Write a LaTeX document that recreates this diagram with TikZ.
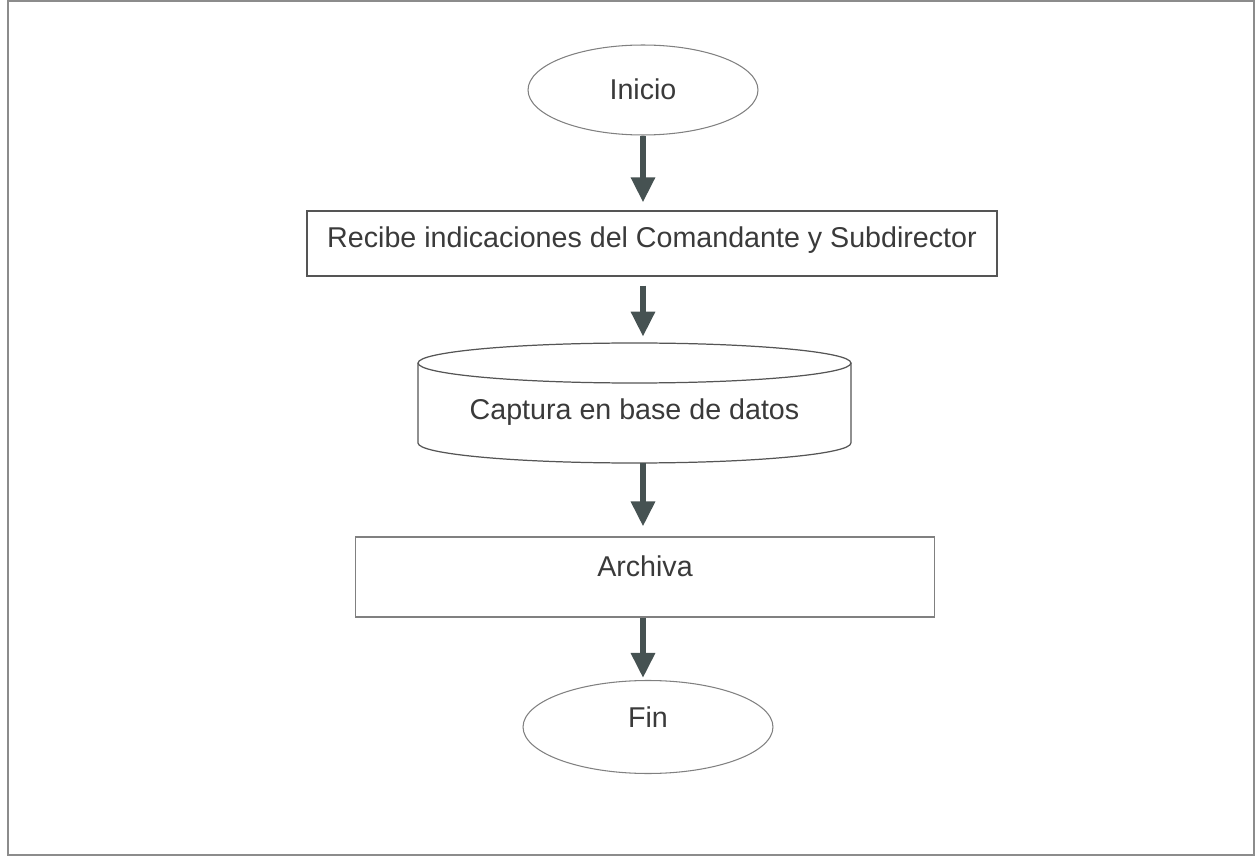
\documentclass[tikz,border=0pt]{standalone}
\usepackage{fontspec}
\setmainfont{Liberation Sans}
\usetikzlibrary{shapes.geometric,arrows.meta}
\definecolor{arrowc}{HTML}{465252}
\definecolor{txtc}{HTML}{3A3A3A}
\definecolor{linec}{HTML}{555555}
\definecolor{lightc}{HTML}{808080}
\definecolor{framec}{HTML}{8C8C8C}
\tikzset{
  lbl/.style={font=\fontsize{16.3}{19}\selectfont, text=txtc, inner sep=0pt},
  ovalbox/.style={lbl, ellipse, draw=lightc, line width=0.6pt},
  stepbox/.style={lbl, rectangle, draw=linec, line width=0.7pt},
  flowarrow/.style={draw=arrowc, line width=3.4pt, -{Triangle[width=0.46cm,length=0.5cm]}},
}
\begin{document}
\begin{tikzpicture}[x=0.02cm,y=-0.02cm]
\useasboundingbox (0,0) rectangle (1259,858);
\draw[framec, line width=1.1pt] (8,1) rectangle (1254,855);

\node[ovalbox, minimum width=4.6cm, minimum height=1.8cm, text height=0.4cm, text depth=0cm] (inicio) at (643,90) {Inicio};
\node[stepbox, minimum width=13.8cm, minimum height=1.3cm, text height=0.28cm, text depth=0.12cm] (recibe) at (652,243.5) {Recibe indicaciones del Comandante y Subdirector};
\node[lbl, minimum width=8.66cm, minimum height=2.4cm, text height=0.7cm, text depth=0.02cm] (cyl) at (634.5,403) {Captura en base de datos};
\draw[linec, line width=0.7pt] (634.5,363) ellipse [x radius=4.33cm, y radius=0.4cm];
\draw[linec, line width=0.7pt] (418,363) -- (418,443) arc[start angle=180, end angle=360, x radius=4.33cm, y radius=0.4cm] -- (851,363);
\node[stepbox, draw=lightc, line width=0.6pt, minimum width=11.6cm, minimum height=1.6cm, text height=0.35cm, text depth=0.35cm] (archiva) at (645,577) {Archiva};
\node[ovalbox, minimum width=5.0cm, minimum height=1.86cm, text height=0.35cm, text depth=0.35cm] (fin) at (648,727) {Fin};

\coordinate (ax) at (643,0);
\draw[flowarrow, shorten >=0.16cm] (inicio.south -| ax) -- (recibe.north -| ax);
\draw[flowarrow, shorten <=0.18cm, shorten >=0.12cm] (recibe.south -| ax) -- (cyl.north -| ax);
\draw[flowarrow, shorten >=0.2cm] (cyl.south -| ax) -- (archiva.north -| ax);
\draw[flowarrow, shorten >=0.04cm] (archiva.south -| ax) -- (fin.north -| ax);
\end{tikzpicture}
\end{document}
